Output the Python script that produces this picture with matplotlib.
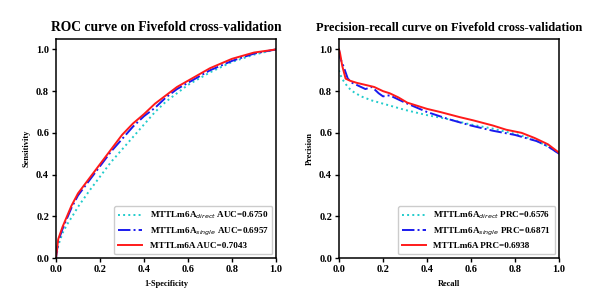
import numpy as np
import matplotlib
matplotlib.use("Agg")
import matplotlib.pyplot as plt

plt.rcParams['font.family'] = ['Liberation Serif', 'DejaVu Serif']
plt.rcParams['font.weight'] = 'bold'
plt.rcParams['mathtext.fontset'] = 'custom'
plt.rcParams['mathtext.it'] = 'DejaVu Sans:style=italic:weight=normal'
plt.rcParams['mathtext.rm'] = 'DejaVu Sans:weight=normal'

# ROC curves (1-specificity, sensitivity)
roc_direct_x = [0.0, 0.01, 0.03, 0.05, 0.08, 0.1, 0.15, 0.2, 0.25, 0.3, 0.35, 0.4, 0.45, 0.5,
                0.55, 0.6, 0.7, 0.8, 0.9, 1.0]
roc_direct_y = [0.0, 0.06, 0.12, 0.16, 0.21, 0.245, 0.32, 0.39, 0.46, 0.52, 0.58, 0.64, 0.70, 0.75,
                0.79, 0.83, 0.89, 0.94, 0.975, 1.0]
roc_single_x = [0.0, 0.01, 0.03, 0.05, 0.07, 0.1, 0.15, 0.2, 0.25, 0.3, 0.35, 0.4, 0.45, 0.5,
                0.55, 0.6, 0.7, 0.8, 0.9, 1.0]
roc_single_y = [0.0, 0.08, 0.14, 0.19, 0.24, 0.30, 0.37, 0.44, 0.51, 0.57, 0.63, 0.68, 0.72, 0.77,
                0.81, 0.84, 0.90, 0.945, 0.98, 1.0]
roc_full_x = [0.0, 0.01, 0.03, 0.05, 0.07, 0.1, 0.15, 0.2, 0.25, 0.3, 0.35, 0.4, 0.45, 0.5,
              0.55, 0.6, 0.7, 0.8, 0.9, 1.0]
roc_full_y = [0.0, 0.09, 0.15, 0.2, 0.25, 0.31, 0.38, 0.45, 0.52, 0.59, 0.645, 0.69, 0.74, 0.78,
              0.82, 0.85, 0.91, 0.955, 0.985, 1.0]

# PR curves (recall, precision)
pr_direct_x = [0.0, 0.005, 0.02, 0.04, 0.06, 0.1, 0.15, 0.2, 0.25, 0.3, 0.4, 0.5, 0.6, 0.7,
               0.76, 0.8, 0.85, 0.9, 0.95, 1.0]
pr_direct_y = [0.90, 0.88, 0.85, 0.82, 0.80, 0.775, 0.755, 0.74, 0.725, 0.71, 0.685, 0.665, 0.64,
               0.62, 0.605, 0.595, 0.58, 0.56, 0.535, 0.50]
pr_single_x = [0.0, 0.005, 0.02, 0.04, 0.06, 0.08, 0.1, 0.12, 0.15, 0.18, 0.2, 0.23, 0.25,
               0.3, 0.4, 0.5, 0.6, 0.7, 0.8, 0.9, 0.95, 1.0]
pr_single_y = [1.0, 0.96, 0.92, 0.86, 0.84, 0.83, 0.82, 0.81, 0.82, 0.79, 0.775, 0.78, 0.77,
               0.745, 0.70, 0.665, 0.635, 0.61, 0.59, 0.56, 0.535, 0.50]
pr_full_x = [0.0, 0.005, 0.015, 0.03, 0.05, 0.08, 0.12, 0.16, 0.2, 0.23, 0.27, 0.31, 0.4, 0.46,
             0.55, 0.61, 0.7, 0.76, 0.83, 0.89, 0.95, 1.0]
pr_full_y = [1.0, 0.98, 0.92, 0.86, 0.85, 0.84, 0.83, 0.82, 0.80, 0.79, 0.77, 0.745, 0.715, 0.70,
             0.675, 0.66, 0.635, 0.615, 0.60, 0.575, 0.545, 0.505]

ticks = [0.0, 0.2, 0.4, 0.6, 0.8, 1.0]

fig = plt.figure(figsize=(6.14, 3.07), dpi=100)
ax1 = fig.add_axes([56 / 614, 49 / 307, 220 / 614, 219 / 307])
ax2 = fig.add_axes([339 / 614, 49 / 307, 220 / 614, 219 / 307])


def style(ax, title, xlabel, ylabel, tsize):
    ax.set_xlim(0, 1)
    ax.set_ylim(0, 1.05)
    ax.set_xticks(ticks)
    ax.set_yticks(ticks)
    ax.set_xticklabels([f"{t:.1f}" for t in ticks], fontsize=7.5, fontweight='bold')
    ax.set_yticklabels([f"{t:.1f}" for t in ticks], fontsize=7.5, fontweight='bold')
    ax.tick_params(length=3, width=1, pad=2)
    for s in ax.spines.values():
        s.set_linewidth(1.1)
    ax.set_title(title, fontsize=tsize, fontweight='bold', pad=6)
    ax.set_xlabel(xlabel, fontsize=6, fontweight='bold', labelpad=4)
    ax.set_ylabel(ylabel, fontsize=6, fontweight='bold', labelpad=4)


ax1.plot(roc_direct_x, roc_direct_y, color='#22cccc', ls=':', lw=1.4,
         label='MTTLm6A$_{direct}$ AUC=0.6750')
ax1.plot(roc_single_x, roc_single_y, color='#1a1aee', ls='-.', lw=1.4,
         label='MTTLm6A$_{single}$ AUC=0.6957')
ax1.plot(roc_full_x, roc_full_y, color='#ff1a1a', ls='-', lw=1.4,
         label='MTTLm6A AUC=0.7043')
style(ax1, 'ROC curve on Fivefold cross-validation', '1-Specificity', 'Sensitivity', 9.8)

ax2.plot(pr_direct_x, pr_direct_y, color='#22cccc', ls=':', lw=1.4,
         label='MTTLm6A$_{direct}$ PRC=0.6576')
ax2.plot(pr_single_x, pr_single_y, color='#1a1aee', ls='-.', lw=1.4,
         label='MTTLm6A$_{single}$ PRC=0.6871')
ax2.plot(pr_full_x, pr_full_y, color='#ff1a1a', ls='-', lw=1.4,
         label='MTTLm6A PRC=0.6938')
style(ax2, 'Precision-recall curve on Fivefold cross-validation', 'Recall', 'Precision', 9.0)

for ax in (ax1, ax2):
    leg = ax.legend(loc='lower right', prop={'size': 6.6, 'weight': 'bold'},
                    handlelength=2.6, borderpad=0.45, labelspacing=0.45,
                    borderaxespad=0.4, framealpha=1)
    leg.get_frame().set_edgecolor('#cccccc')

fig.savefig('out.png', dpi=100)
